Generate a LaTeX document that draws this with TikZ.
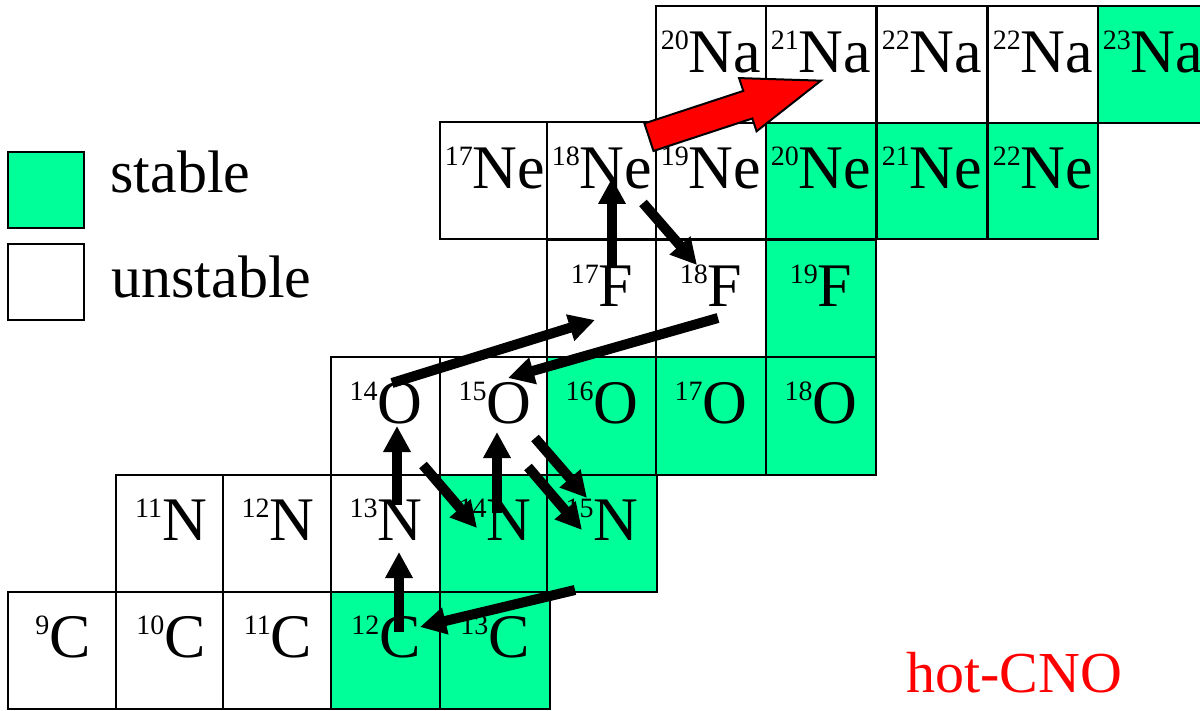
\documentclass[tikz,border=0pt]{standalone}
\usepackage{fontspec}
\setmainfont{Liberation Serif}
\usetikzlibrary{arrows.meta,shapes.arrows}
\definecolor{isogreen}{RGB}{0,255,153}
\newcommand\iso[2]{\raisebox{11.5pt}{\fontsize{14}{14}\selectfont#1}#2}
\begin{document}
\begin{tikzpicture}[x=0.5pt, y=-0.5pt,
    cell/.style={draw, line width=1pt, minimum width=55pt, minimum height=58.5pt,
                 inner sep=0pt, text height=33pt, text depth=25.5pt,
                 font=\fontsize{31}{36}\selectfont},
    stable/.style={cell, fill=isogreen},
    unstable/.style={cell, fill=white},
    keybox/.style={draw, line width=1pt, minimum size=38pt, inner sep=0pt},
    lbl/.style={anchor=base west, inner sep=0pt, font=\fontsize{30}{36}\selectfont},
    flow/.style={-{Triangle[width=13pt,length=13pt]}, line width=5pt}
]
\useasboundingbox (0,0) rectangle (1200,711);

\node[unstable] (C9)  at (63,650)  {\iso{9}{C}};
\node[unstable] (C10) at (171,650) {\iso{10}{C}};
\node[unstable] (C11) at (278,650) {\iso{11}{C}};
\node[stable]   (C12) at (386,650) {\iso{12}{C}};
\node[stable]   (C13) at (495,650) {\iso{13}{C}};

\node[unstable] (N11) at (171,533) {\iso{11}{N}};
\node[unstable] (N12) at (278,533) {\iso{12}{N}};
\node[unstable] (N13) at (386,533) {\iso{13}{N}};
\node[stable]   (N14) at (495,533) {\iso{14}{N}};
\node[stable]   (N15) at (602,533) {\iso{15}{N}};

\node[unstable] (O14) at (386,416) {\iso{14}{O}};
\node[unstable] (O15) at (495,416) {\iso{15}{O}};
\node[stable]   (O16) at (602,416) {\iso{16}{O}};
\node[stable]   (O17) at (711,416) {\iso{17}{O}};
\node[stable]   (O18) at (821,416) {\iso{18}{O}};

\node[unstable] (F17) at (602,299) {\iso{17}{F}};
\node[unstable] (F18) at (711,299) {\iso{18}{F}};
\node[stable]   (F19) at (821,299) {\iso{19}{F}};

\node[unstable] (Ne17) at (495,181)  {\iso{17}{Ne}};
\node[unstable] (Ne18) at (602,181)  {\iso{18}{Ne}};
\node[unstable] (Ne19) at (711,181)  {\iso{19}{Ne}};
\node[stable]   (Ne20) at (821,181)  {\iso{20}{Ne}};
\node[stable]   (Ne21) at (932,181)  {\iso{21}{Ne}};
\node[stable]   (Ne22) at (1043,181) {\iso{22}{Ne}};

\node[unstable] (Na20)  at (711,65)  {\iso{20}{Na}};
\node[unstable] (Na21)  at (821,65)  {\iso{21}{Na}};
\node[unstable] (Na22)  at (932,65)  {\iso{22}{Na}};
\node[unstable] (Na22b) at (1043,65) {\iso{22}{Na}};
\node[stable]   (Na23)  at (1153,65) {\iso{23}{Na}};

\node[keybox, fill=isogreen] (stablebox)   at (46,190) {};
\node[keybox, fill=white]    (unstablebox) at (46,282) {};
\node[lbl] (stablelbl)   at (110,193) {stable};
\node[lbl] (unstablelbl) at (111,298) {unstable};

\node[lbl, text=red, font=\fontsize{29}{35}\selectfont] (hotcno) at (906,692) {hot-CNO};

\draw[flow] ([shift={(13,-18)}]C12.center) -- ([shift={(13,19)}]N13.center);
\draw[flow] ([shift={(11,-28)}]N13.center) -- ([shift={(11,10)}]O14.center);
\draw[flow] ([shift={(37,49)}]O14.center) -- ([shift={(-18,-5)}]N14.center);
\draw[flow] ([shift={(2,-20)}]N14.center) -- ([shift={(2,16)}]O15.center);
\draw[flow] ([shift={(40,22)}]O15.center) -- ([shift={(-15,-35)}]N15.center);
\draw[flow] ([shift={(33,51)}]O15.center) -- ([shift={(-20,-3)}]N15.center);
\draw[flow] ([shift={(-27,57)}]N15.center) -- ([shift={(34,-23)}]C12.center);
\draw[flow] ([shift={(6,-33)}]O14.center) -- ([shift={(-7,21)}]F17.center);
\draw[flow] ([shift={(7,19)}]F18.center) -- ([shift={(13,-38)}]O15.center);
\draw[flow] ([shift={(10,-31)}]F17.center) -- ([shift={(10,-3)}]Ne18.center);
\draw[flow] ([shift={(41,22)}]Ne18.center) -- ([shift={(-14,-34)}]F18.center);

\node[single arrow, draw=black, fill=red, line width=1pt,
      inner xsep=0pt, inner ysep=6.75pt,
      minimum width=27pt, minimum height=90.5pt,
      single arrow head extend=6.75pt, single arrow tip angle=40,
      rotate=18.2, anchor=tail] (breakout) at ([shift={(-63,-43.5)}]Ne19.center) {};

\end{tikzpicture}
\end{document}
